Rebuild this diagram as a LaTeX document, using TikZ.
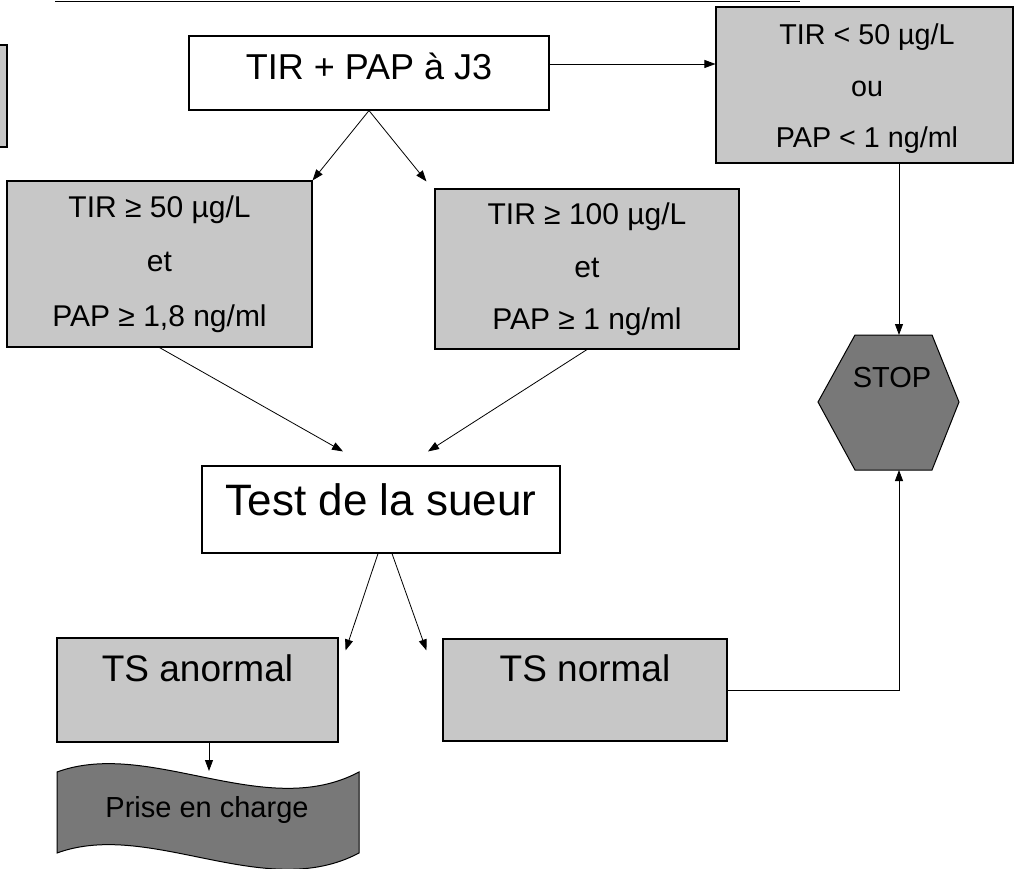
\documentclass[tikz,border=0pt]{standalone}
\usepackage{fontspec}
\setmainfont{Liberation Sans}
\usetikzlibrary{arrows.meta,calc}
\definecolor{boxgray}{gray}{0.78}
\definecolor{darkfill}{gray}{0.47}
\begin{document}
\begin{tikzpicture}[x=1pt,y=-1pt,
  box/.style={draw=black, line width=1.1pt, rectangle, inner sep=0pt},
  gbox/.style={box, fill=boxgray},
  wbox/.style={box, fill=white},
  txt/.style={anchor=base, inner sep=0pt, text=black},
  arr/.style={-{Triangle[length=11pt,width=8pt]}, line width=0.8pt},
  conn/.style={line width=0.8pt}]
\useasboundingbox (0,0) rectangle (1015,869);
% top rule and partial box
\draw[line width=1.5pt] (55,1.5) coordinate (r1) -- (800,1.5) coordinate (r2);
\node[gbox, minimum width=12, minimum height=102] (part) at (1,96) {};
% boxes
\node[wbox, minimum width=360, minimum height=74] (j3) at (369,73) {};
\node[gbox, minimum width=297, minimum height=156] (tr) at (864.5,85) {};
\node[gbox, minimum width=305, minimum height=166] (lb) at (159.5,264) {};
\node[gbox, minimum width=304, minimum height=160] (mb) at (587,269) {};
\node[wbox, minimum width=358, minimum height=87] (test) at (381,509.5) {};
\node[gbox, minimum width=281, minimum height=104] (tsa) at (197.5,690) {};
\node[gbox, minimum width=284, minimum height=102] (tsn) at (585,690) {};
% STOP hexagon
\coordinate (h1) at (855,335); \coordinate (h2) at (932,335);
\coordinate (h3) at (959,402); \coordinate (h4) at (932,470);
\coordinate (h5) at (855,470); \coordinate (h6) at (818,402);
\coordinate (stopN) at (899,335); \coordinate (stopS) at (899,470);
\draw[fill=darkfill, line width=1pt] (h1) -- (h2) -- (h3) -- (h4) -- (h5) -- (h6) -- cycle;
% wave banner
\coordinate (w1) at (57,772); \coordinate (w2) at (359,772);
\coordinate (w3) at (359,853); \coordinate (w4) at (57,853);
\coordinate (wtop) at (209,771);
\draw[fill=darkfill, line width=1pt] (w1) .. controls (150,738) and (265,822) .. (w2) -- (w3)
   .. controls (265,903) and (150,819) .. (w4) -- cycle;
% texts
\node[txt, font=\fontsize{36}{40}\selectfont] (tj3) at (369,80) {TIR + PAP à J3};
\node[txt, font=\fontsize{28.7}{32}\selectfont] (tr1) at (867,45) {TIR < 50 µg/L};
\node[txt, font=\fontsize{28.7}{32}\selectfont] (tr2) at (867,97) {ou};
\node[txt, font=\fontsize{28.7}{32}\selectfont] (tr3) at (867,148) {PAP < 1 ng/ml};
\node[txt, font=\fontsize{30}{34}\selectfont] (lb1) at (159.5,218) {TIR ≥ 50 µg/L};
\node[txt, font=\fontsize{30}{34}\selectfont] (lb2) at (159.5,272) {et};
\node[txt, font=\fontsize{30}{34}\selectfont] (lb3) at (159.5,326) {PAP ≥ 1,8 ng/ml};
\node[txt, font=\fontsize{30}{34}\selectfont] (mb1) at (587,225) {TIR ≥ 100 µg/L};
\node[txt, font=\fontsize{30}{34}\selectfont] (mb2) at (587,277) {et};
\node[txt, font=\fontsize{30}{34}\selectfont] (mb3) at (587,329) {PAP ≥ 1 ng/ml};
\node[txt, font=\fontsize{44}{48}\selectfont] (ttest) at (381,515) {Test de la sueur};
\node[txt, font=\fontsize{37}{40}\selectfont] (ttsa) at (197.5,681) {TS anormal};
\node[txt, font=\fontsize{37}{40}\selectfont] (ttsn) at (585,681) {TS normal};
\node[txt, font=\fontsize{29}{32}\selectfont] (tstop) at (892,387) {STOP};
\node[txt, font=\fontsize{29}{32}\selectfont] (twave) at (207,817) {Prise en charge};
% connectors
\draw[arr] ($(j3.east)+(0,-9)$) coordinate (a1) -- (a1 -| tr.west);
\draw[arr] (j3.south) -- (lb.north east);
\draw[arr] (j3.south) -- ($(mb.north west)+(-8,-7)$);
\draw[arr] (lb.south) -- ($(test.north)+(-38,-14)$);
\draw[arr] (mb.south) -- ($(test.north)+(47,-14)$);
\draw[arr] ($(test.south)+(-3,0)$) -- ($(tsa.north east)+(7,13)$);
\draw[arr] ($(test.south)+(11,0)$) -- ($(tsn.north west)+(-16,12)$);
\draw[arr] (tr.south -| stopN) -- (stopN);
\draw[arr] (tsn.east) -- (tsn.east -| stopS) -- (stopS);
\draw[arr] (tsa.south -| wtop) -- (wtop);
\end{tikzpicture}
\end{document}
